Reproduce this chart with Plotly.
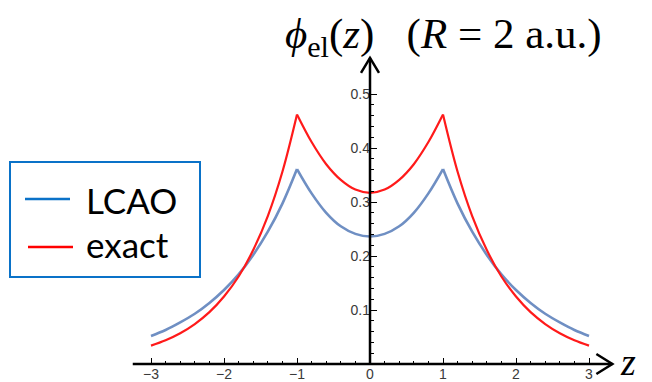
import plotly.graph_objects as go

# ---- data ----
z = [-3.0, -2.8, -2.6, -2.4, -2.2, -2.0, -1.8, -1.6, -1.4, -1.2, -1.0,
     -0.8, -0.6, -0.4, -0.2, 0.0, 0.2, 0.4, 0.6, 0.8,
     1.0, 1.2, 1.4, 1.6, 1.8, 2.0, 2.2, 2.4, 2.6, 2.8, 3.0]
lcao = [0.052, 0.063, 0.077, 0.093, 0.113, 0.137, 0.166, 0.202, 0.245, 0.297, 0.361,
        0.316, 0.280, 0.255, 0.241, 0.236, 0.241, 0.255, 0.280, 0.316,
        0.361, 0.297, 0.245, 0.202, 0.166, 0.137, 0.113, 0.093, 0.077, 0.063, 0.052]
exact = [0.034, 0.044, 0.057, 0.074, 0.096, 0.125, 0.162, 0.211, 0.274, 0.356, 0.462,
         0.411, 0.370, 0.341, 0.323, 0.317, 0.323, 0.341, 0.370, 0.411,
         0.462, 0.356, 0.274, 0.211, 0.162, 0.125, 0.096, 0.074, 0.057, 0.044, 0.034]
cusps = [-1.0, 1.0]          # nuclei positions (R = 2)
x_ticks = [-3, -2, -1, 0, 1, 2, 3]
x_tick_text = ["\u22123", "\u22122", "\u22121", "0", "1", "2", "3"]
y_ticks = [0.1, 0.2, 0.3, 0.4, 0.5]
y_tick_text = ["0.1", "0.2", "0.3", "0.4", "0.5"]

W, H = 652, 382
x0_px, x_scale = 370, 73.0
y0_px, y_scale = 364, 540.0
xr = [-x0_px / x_scale, (W - x0_px) / x_scale]
yr = [-(H - y0_px) / y_scale, y0_px / y_scale]

fig = go.Figure()

# split each series at the cusps so a smooth spline keeps the sharp peaks
cut = [0] + [z.index(c) for c in cusps] + [len(z) - 1]
for vals, color, width in [(lcao, "#6F8FC3", 2.6), (exact, "#FF1A1A", 2.2)]:
    for a, b in zip(cut[:-1], cut[1:]):
        fig.add_trace(go.Scatter(x=z[a:b + 1], y=vals[a:b + 1], mode="lines",
                                 line=dict(color=color, width=width, shape="spline",
                                           smoothing=1.0),
                                 hoverinfo="skip"))

minor_x = [round(-3 + 0.2 * i, 2) for i in range(31)]
minor_y = [round(0.02 * i, 2) for i in range(1, 25)]

tick_font = dict(family="Liberation Sans", size=14, color="#3a3a3a")
fig.update_layout(
    width=W, height=H, margin=dict(l=0, r=0, t=0, b=0),
    paper_bgcolor="white", plot_bgcolor="white", showlegend=False,
    font=dict(family="Liberation Sans", size=14),
    xaxis=dict(range=xr, showgrid=False, zeroline=False, showline=False,
               automargin=False, fixedrange=True,
               anchor="free", position=(0 - yr[0]) / (yr[1] - yr[0]),
               tickmode="array", tickvals=x_ticks, ticktext=x_tick_text,
               ticks="inside", ticklen=6, tickwidth=1.2, tickcolor="black",
               tickfont=tick_font,
               minor=dict(tickmode="array", tickvals=minor_x, ticks="inside",
                          ticklen=3, tickwidth=1, tickcolor="black")),
    yaxis=dict(range=yr, showgrid=False, zeroline=False, showline=False,
               automargin=False, fixedrange=True,
               anchor="free", position=(0 - xr[0]) / (xr[1] - xr[0]),
               tickmode="array", tickvals=y_ticks, ticktext=y_tick_text,
               ticks="inside", ticklen=6, tickwidth=1.2, tickcolor="black",
               ticklabelposition="outside",
               tickfont=tick_font,
               minor=dict(tickmode="array", tickvals=minor_y, ticks="inside",
                          ticklen=3, tickwidth=1, tickcolor="black")),
)

# axis lines with open arrow heads
x_lo, x_hi = -3.25, 3.32
y_hi = 0.567
fig.add_shape(type="line", xref="x", yref="y", x0=x_lo, x1=x_hi, y0=0, y1=0,
              line=dict(color="black", width=2.5))
fig.add_shape(type="line", xref="x", yref="y", x0=0, x1=0, y0=0, y1=y_hi,
              line=dict(color="black", width=2.5))
fig.add_shape(type="path", xref="x", yref="y", xsizemode="pixel", ysizemode="pixel",
              xanchor=x_hi, yanchor=0, path="M -16,-10 L 0,0 L -16,10",
              line=dict(color="black", width=2.5))
fig.add_shape(type="path", xref="x", yref="y", xsizemode="pixel", ysizemode="pixel",
              xanchor=0, yanchor=y_hi, path="M -9,-15 L 0,0 L 9,-15",
              line=dict(color="black", width=2.5))

# title and axis label
fig.add_annotation(xref="paper", yref="paper", x=444 / W, y=1 - 37 / H,
                   xanchor="center", yanchor="middle", showarrow=False,
                   text="<i>\u03d5</i><sub>el</sub>(<i>z</i>)&nbsp;&nbsp;&nbsp;(<i>R</i> = 2 a.u.)",
                   font=dict(family="Liberation Serif", size=43, color="black"))
fig.add_annotation(xref="paper", yref="paper", x=618 / W, y=1 - 362 / H,
                   xanchor="left", yanchor="middle", showarrow=False,
                   text="<i>z</i>",
                   font=dict(family="Liberation Serif", size=38, color="black"))

# legend box
fig.add_shape(type="rect", xref="paper", yref="paper",
              x0=10 / W, x1=200 / W, y0=1 - 277 / H, y1=1 - 162 / H,
              line=dict(color="#0A72C8", width=2))
fig.add_shape(type="line", xref="paper", yref="paper",
              x0=25 / W, x1=70 / W, y0=1 - 199 / H, y1=1 - 199 / H,
              line=dict(color="#0A72C8", width=2.5))
fig.add_shape(type="line", xref="paper", yref="paper",
              x0=28 / W, x1=73 / W, y0=1 - 247 / H, y1=1 - 247 / H,
              line=dict(color="#FF0000", width=2.5))
fig.add_annotation(xref="paper", yref="paper", x=84 / W, y=1 - 200 / H,
                   xanchor="left", yanchor="middle", showarrow=False, text="LCAO",
                   font=dict(family="Lato", size=35, color="black"))
fig.add_annotation(xref="paper", yref="paper", x=84 / W, y=1 - 244 / H,
                   xanchor="left", yanchor="middle", showarrow=False, text="exact",
                   font=dict(family="Lato", size=35, color="black"))

fig.write_html("out.html", config={"displayModeBar": False},
               post_script="document.body.style.margin='0';document.body.style.padding='0';")
